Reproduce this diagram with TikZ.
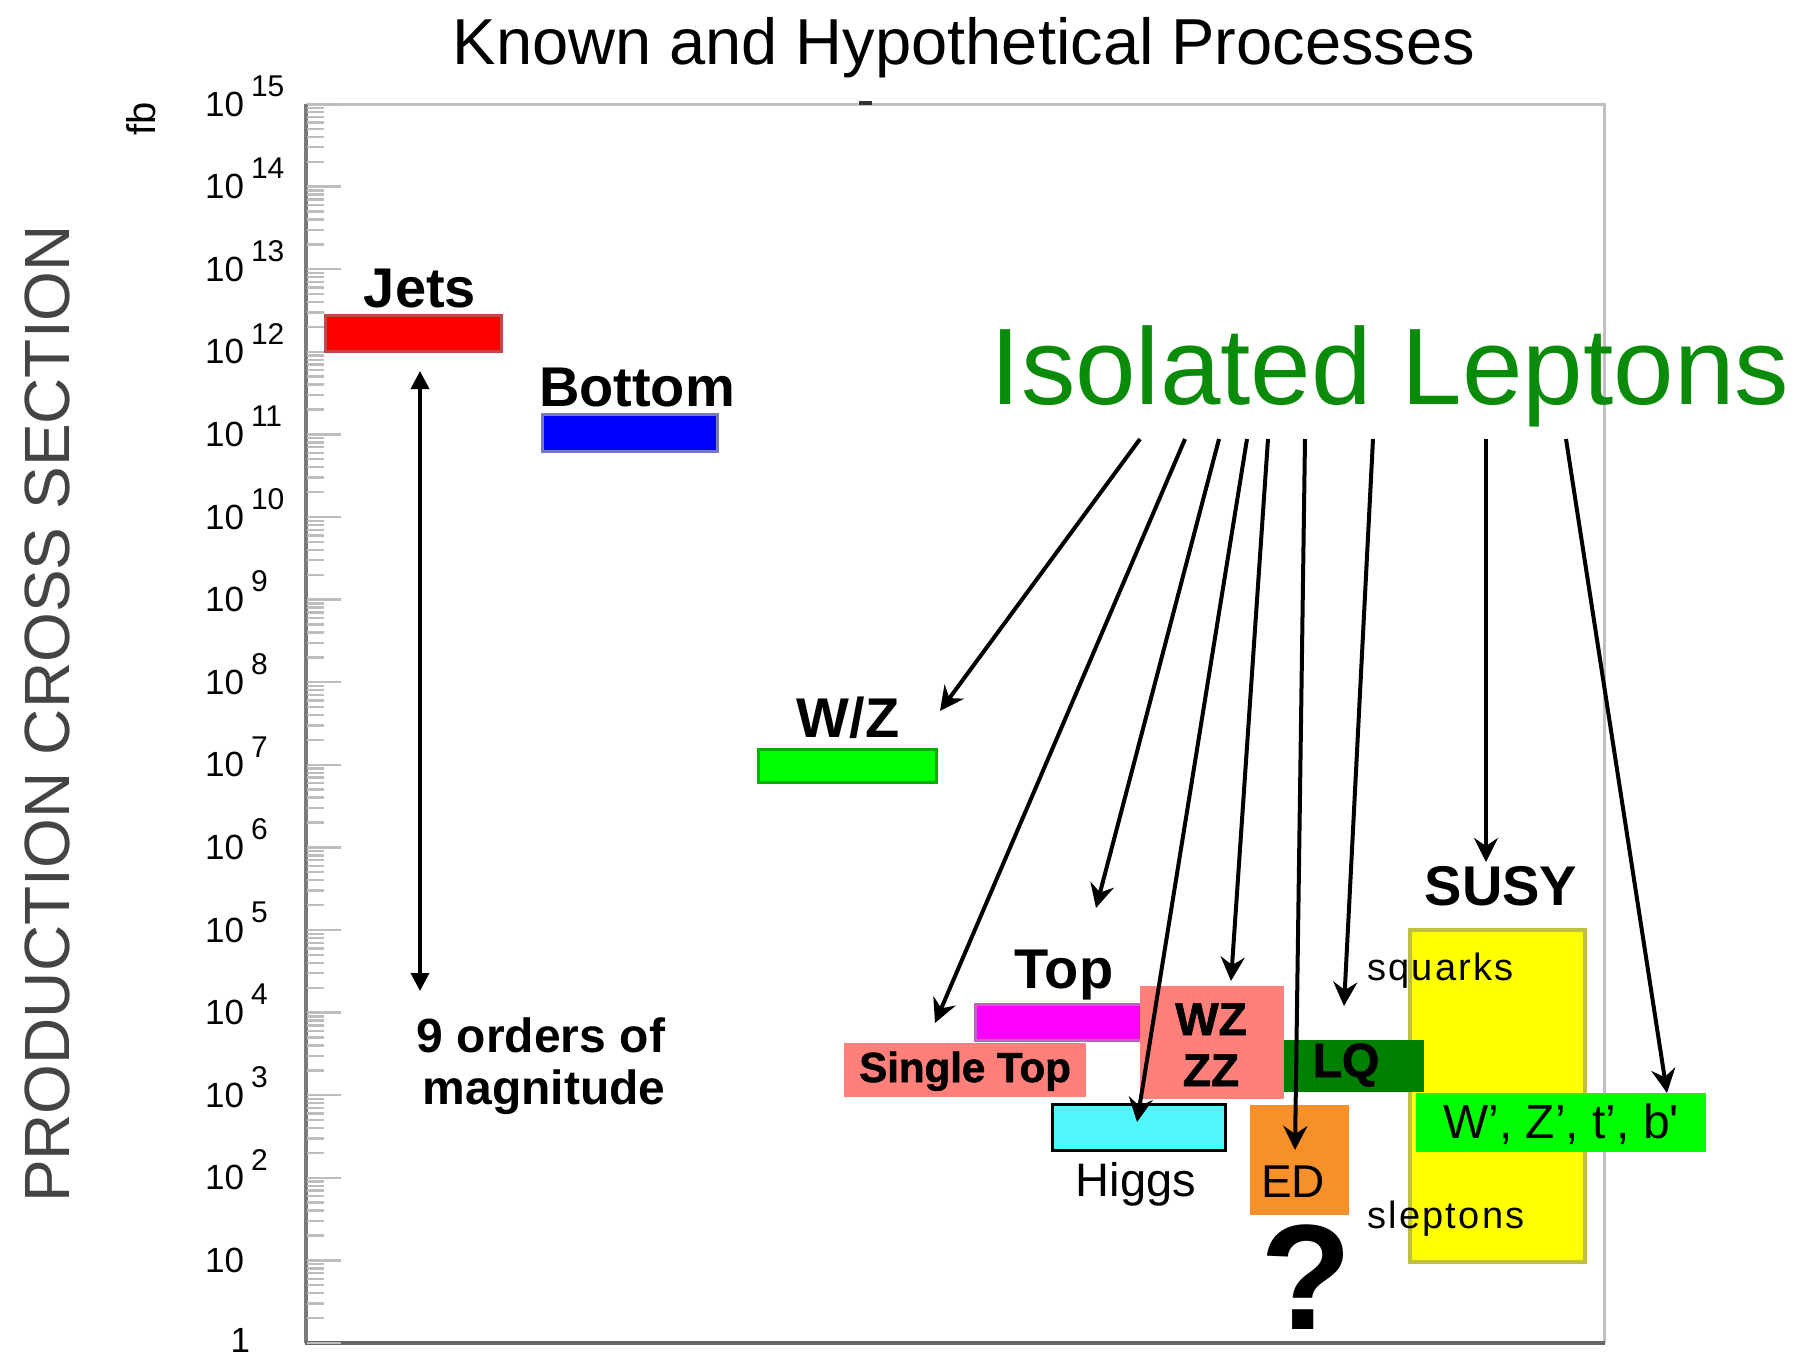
\documentclass[tikz,border=0pt]{standalone}
\usepackage{fontspec}
\setmainfont{Liberation Sans}
\newfontfamily\heavyfont[FakeBold=1.5]{Liberation Sans Bold}
\newfontfamily\spacedfont[LetterSpace=6]{Liberation Sans}
\newfontfamily\rawfont[Ligatures=TeXOff]{Liberation Sans}
\usetikzlibrary{positioning,calc,arrows.meta}

\newcommand{\fsize}[1]{\fontsize{#1}{#1}\selectfont}

\definecolor{framegray}{HTML}{C0C0C0}
\definecolor{axisgray}{HTML}{7A7A7A}
\definecolor{tickgray}{HTML}{BDBDBD}
\definecolor{labgray}{HTML}{444444}
\definecolor{lepgreen}{HTML}{0A8C0A}
\definecolor{jetsred}{HTML}{FF0000}
\definecolor{jetsedge}{HTML}{C04848}
\definecolor{bottomblue}{HTML}{0000FF}
\definecolor{bottomedge}{HTML}{7878C0}
\definecolor{wzgreen}{HTML}{00FF00}
\definecolor{wzedge}{HTML}{00B000}
\definecolor{topmag}{HTML}{FF00FF}
\definecolor{topedge}{HTML}{C060C0}
\definecolor{salmon}{HTML}{FF7F7A}
\definecolor{higgscyan}{HTML}{50F8FC}
\definecolor{lqgreen}{HTML}{008000}
\definecolor{edorange}{HTML}{F8902A}
\definecolor{susyyellow}{HTML}{FFFF00}
\definecolor{susyedge}{HTML}{C0C040}

\begin{document}
\begin{tikzpicture}[x=0.5pt,y=-0.5pt]
                        \tikzstyle{every node}=[inner sep=0,outer sep=0]
                        \tikzstyle{procbar}=[rectangle,line width=1.5pt]
                        \tikzstyle{boldlab}=[font=\bfseries\fsize{28pt},anchor=base]
                        \tikzstyle{heavylab}=[font=\heavyfont\fsize{23pt},anchor=base]
                        \tikzstyle{plainlab}=[font=\fsize{23.5pt},anchor=base]
                        \tikzstyle{smalllab}=[font=\spacedfont\fsize{19pt},anchor=base west]
                        \tikzstyle{ticklab}=[font=\fsize{17.5pt},anchor=east]
                        \tikzstyle{explab}=[font=\fsize{15pt},anchor=west]
                        \tikzstyle{lepto}=[->,>={Stealth[length=12pt,width=12pt,inset=4pt]},line width=2pt]
                        {
                            \useasboundingbox (0,0) rectangle (1812,1361);

                            \draw[framegray,line width=1.5pt] (306,104) -- (1604,104) -- (1604,1343);
                            \draw[axisgray,line width=2pt] (306,104) -- (306,1343);
                            \draw[black!60,line width=2pt] (305,1343) -- (1605,1343);
                            \draw[black!80,line width=2pt] (859,103) -- (872,103);

                            \foreach \k in {0,...,15}
                                \draw[tickgray,line width=1.2pt] (307,{1343-82.6*\k}) -- (341,{1343-82.6*\k});
                            \foreach \k in {0,...,14}
                                \foreach \m in {2,...,9}
                                    \draw[tickgray,line width=1.2pt] (307,{1343-82.6*(\k+log10(\m))}) -- ++(17,0);

                            \foreach \k in {2,...,15} {
                                \node[ticklab] (dec\k) at (244,{1343-82.6*\k}) {10};
                                \node[explab] (exp\k) at (251,{1343-82.6*\k-18}) {\k};
                            }
                            \node[ticklab] (dec1) at (244,1260.4) {10};
                            \node[ticklab] (dec0) at (250,1340) {1};

                            \node[rotate=90,font=\fsize{20pt}] (unit) at (141,119) {fb};
                            \node[rotate=90,font=\fsize{32pt},text=labgray] (ylabel) at (47,714) {PRODUCTION CROSS SECTION};
                            \node[font=\fsize{32.5pt},anchor=base] (title) at (964,64) {Known and Hypothetical Processes};

                            \node[procbar,fill=jetsred,draw=jetsedge,minimum width=88pt,minimum height=18pt] (jets) at (413,333) {};
                            \node[procbar,fill=bottomblue,draw=bottomedge,minimum width=87.5pt,minimum height=18.5pt] (bottom) at (629.5,432.5) {};
                            \node[procbar,fill=wzgreen,draw=wzedge,minimum width=89pt,minimum height=16.5pt] (wz) at (847,765.5) {};
                            \node[procbar,fill=topmag,draw=topedge,minimum width=87.5pt,minimum height=18pt] (top) at (1062.5,1022) {};
                            \node[procbar,fill=susyyellow,draw=susyedge,line width=2pt,minimum width=87.5pt,minimum height=166pt] (susy) at (1497.5,1096) {};
                            \node[rectangle,fill=lqgreen,minimum width=70pt,minimum height=26pt] (lq) at (1354,1066) {};
                            \node[rectangle,fill=salmon,minimum width=121pt,minimum height=27pt] (single) at (965,1070) {};
                            \node[rectangle,fill=salmon,minimum width=72pt,minimum height=56.5pt] (diboson) at (1212,1042.5) {};
                            \node[procbar,fill=higgscyan,draw=black,minimum width=86.5pt,minimum height=23pt] (higgs) at (1138.5,1127) {};
                            \node[rectangle,fill=edorange,minimum width=49.5pt,minimum height=55pt] (ed) at (1299.5,1160) {};
                            \node[rectangle,fill=wzgreen,minimum width=145pt,minimum height=29.5pt] (wprime) at (1561,1122.5) {};

                            \node[boldlab] (jetslab) at (420,307) {Jets};
                            \node[boldlab] (bottomlab) at (637,406) {Bottom};
                            \node[boldlab] (wzlab) at (848,737) {W/Z};
                            \node[boldlab] (toplab) at (1064,988) {Top};
                            \node[boldlab] (susylab) at (1501,905) {SUSY};
                            \node[heavylab,font=\heavyfont\fsize{21pt}] (singlelab) at (965,1082) {Single Top};
                            \node[heavylab] (wzzlab) at (1211,1035) {WZ};
                            \node[heavylab] (zzlab) at (1211,1086) {ZZ};
                            \node[heavylab,font=\heavyfont\fsize{24pt}] (lqlab) at (1346,1077) {LQ};
                            \node[plainlab] (higgslab) at (1136,1196) {Higgs};
                            \node[plainlab,font=\fsize{23pt}] (edlab) at (1293,1197) {ED};
                            \node[plainlab,font=\rawfont\fsize{24pt}] (wprimelab) at (1561,1138) {W’, Z’, t’, b'};
                            \node[smalllab] (squarks) at (1367,980) {squarks};
                            \node[smalllab] (sleptons) at (1367,1228) {sleptons};
                            \node[font=\bfseries\fsize{75pt},anchor=base] (unknown) at (1306,1329) {?};
                            \node[font=\fsize{54.4pt},text=lepgreen,anchor=base] (leptons) at (1390,404) {Isolated Leptons};
                            \node[font=\bfseries\fsize{24pt},anchor=base] (orders) at (541,1052) {9 orders of};
                            \node[font=\bfseries\fsize{24pt},anchor=base] (magnitude) at (544,1104) {magnitude};

                            \coordinate (spantop) at (420,371);
                            \coordinate (spanbot) at (420,991);
                            \draw[{Triangle[length=9pt,width=9pt]}-{Triangle[length=9pt,width=9pt]},line width=1.8pt] (spantop) -- (spanbot);

                            \coordinate (lep1) at (1140,439);
                            \coordinate (lep2) at (1185,439);
                            \coordinate (lep3) at (1219,439);
                            \coordinate (lep4) at (1247,439);
                            \coordinate (lep5) at (1268,439);
                            \coordinate (lep6) at (1305,439);
                            \coordinate (lep7) at (1373,439);
                            \coordinate (lep8) at (1486,439);
                            \coordinate (lep9) at (1566,439);
                            \coordinate (towz) at (940,711);
                            \coordinate (tosingle) at (935,1023);
                            \coordinate (totop) at (1096,908);
                            \coordinate (tohiggs) at (1137,1122);
                            \coordinate (todiboson) at (1231,981);
                            \coordinate (toed) at (1295,1150);
                            \coordinate (tolq) at (1344,1006);
                            \coordinate (tosusy) at (1486,862);
                            \coordinate (towprime) at (1667,1093);

                            \path[lepto]
                                (lep1) edge (towz)
                                (lep2) edge (tosingle)
                                (lep3) edge (totop)
                                (lep4) edge (tohiggs)
                                (lep5) edge (todiboson)
                                (lep6) edge (toed)
                                (lep7) edge (tolq)
                                (lep8) edge (tosusy)
                                (lep9) edge (towprime);
                        }
                    \end{tikzpicture}
\end{document}
